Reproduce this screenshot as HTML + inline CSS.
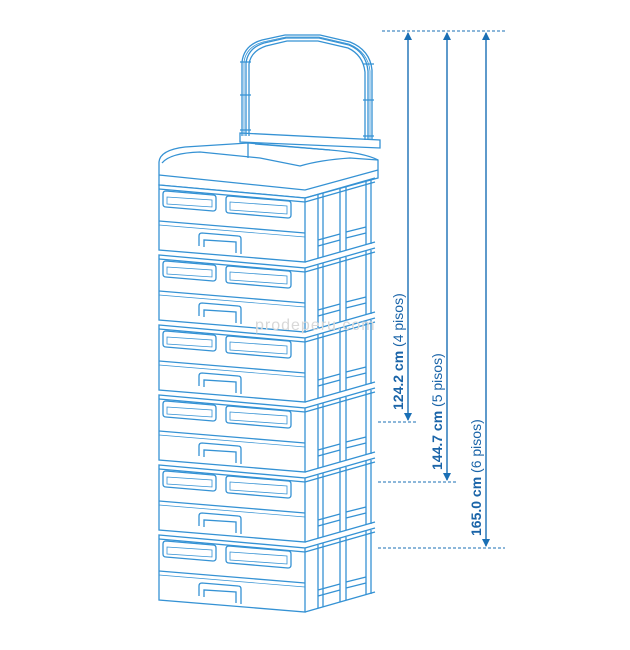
<!DOCTYPE html>
<html><head><style>
html,body{margin:0;padding:0;background:#fff;}
svg{display:block}
text{font-family:"Liberation Sans",sans-serif;fill:#1a64a8}
</style></head><body>
<svg width="630" height="650" viewBox="0 0 630 650">
<defs>
<g id="dr" fill="none" stroke="#3592d4" stroke-width="1.3">
  <path d="M159,185 L305,198 L305,262 L159,250 Z" fill="#fff"/>
  <path d="M159,189 L305,202"/>
  <path d="M163,194 Q163,191 166,191 L213,195 Q216,195 216,198 L216,208 Q216,211 213,211 L166,207 Q163,207 163,204 Z"/>
  <path d="M167,197 L212,200 L212,207 L167,204 Z" stroke-width="0.8"/>
  <path d="M226,199 Q226,196 229,196 L288,201 Q291,201 291,204 L291,215 Q291,218 288,218 L229,213 Q226,213 226,210 Z"/>
  <path d="M230,202 L287,206 L287,214 L230,210 Z" stroke-width="0.8"/>
  <path d="M159,221 L305,233"/>
  <path d="M159,225 L305,237" stroke-width="0.7"/>
  <path d="M199,246 L199,236 Q199,233 202,233 L238,236 Q241,236 241,239 L241,254"/>
  <path d="M204,247 L204,240 L236,242 L236,253"/>
  <path d="M305,198 L375,178 M305,202 L375,182"/>
  <path d="M318,195 L318,258 M323,193 L323,257 M340,188 L340,252 M346,187 L346,250 M366,181 L366,245 M371,180 L371,244"/>
  <path d="M318,240 L340,234 M318,246 L340,240 M346,232 L366,227 M346,238 L366,233"/>
  <path d="M305,262 L375,242"/>
</g>
</defs>
<g fill="none" stroke="#3592d4" stroke-width="1.3">
  <path d="M242,136 L242,62 Q244,45 262,40 L285,35 L320,35 L350,42 Q370,50 372,70 L372,140"/>
  <path d="M244,136 L244,62 Q246,47 263,42 L286,37 L319,37 L349,44 Q368,52 370,71 L370,140" stroke-width="0.8"/>
  <path d="M246,136 L246,63 Q248,48 264,43 L286,38 L319,38 L349,45 Q366,52 368,71 L368,140"/>
  <path d="M249,136 L249,64 Q251,51 266,46 L287,41 L318,41 L348,48 Q363,55 365,72 L365,140"/>
  <path d="M240,62 h11 M240,95 h11 M240,130 h11 M363,64 h11 M363,100 h11 M363,136 h11"/>
  <path d="M240,133 L380,140 L380,148 L240,142 Z"/>
  <path d="M159,185 L159,162 Q160,150 185,147 L248,143 L330,150 Q365,153 378,160 L378,178 L305,198 Z" fill="#fff"/>
  <path d="M162,163 Q170,153 200,152 L260,158 L300,166 Q320,160 350,158 L378,160"/>
  <path d="M159,175 L305,190 L378,170"/>
  <path d="M248,143 L248,158 M255,144 L330,150"/>
</g>
<use href="#dr" transform="translate(0,0)"/>
<use href="#dr" transform="translate(0,70)"/>
<use href="#dr" transform="translate(0,140)"/>
<use href="#dr" transform="translate(0,210)"/>
<use href="#dr" transform="translate(0,280)"/>
<use href="#dr" transform="translate(0,350)"/>
<text x="255" y="330" font-size="16" style="fill:#d8d8d8" letter-spacing="1">prodeperu.com</text>
<g stroke="#1a6fb5" fill="none" stroke-width="1">
  <path d="M382,31 H505 M378,422 H418 M378,482 H457 M378,548 H505" stroke-dasharray="3,2"/>
  <path d="M408,33 V420 M447,33 V480 M486,33 V546" stroke-width="1.4"/>
</g>
<g fill="#1a6fb5">
  <path d="M404,40 L408,32 L412,40Z M404,413 L408,421 L412,413Z"/>
  <path d="M443,40 L447,32 L451,40Z M443,473 L447,481 L451,473Z"/>
  <path d="M482,40 L486,32 L490,40Z M482,539 L486,547 L490,539Z"/>
</g>
<text transform="translate(403,410) rotate(-90)" font-size="14"><tspan font-weight="bold">124.2 cm</tspan> (4 pisos)</text>
<text transform="translate(442,470) rotate(-90)" font-size="14"><tspan font-weight="bold">144.7 cm</tspan> (5 pisos)</text>
<text transform="translate(481,536) rotate(-90)" font-size="14"><tspan font-weight="bold">165.0 cm</tspan> (6 pisos)</text>
</svg>
</body></html>
